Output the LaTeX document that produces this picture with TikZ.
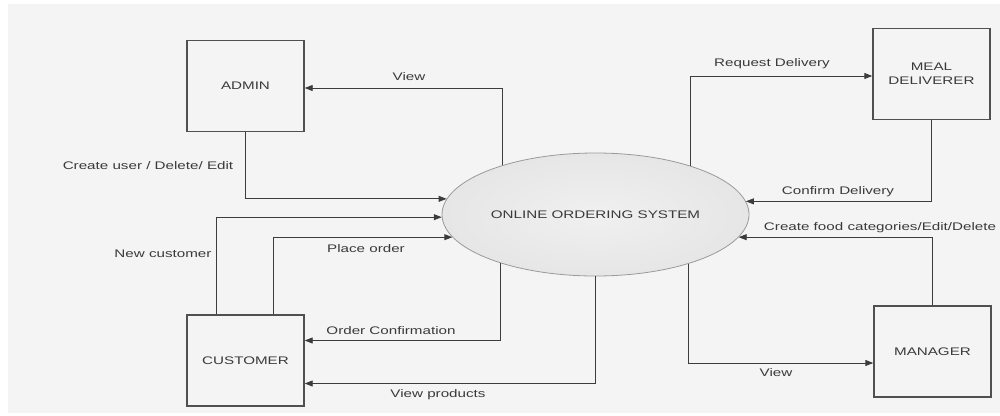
\documentclass[tikz,border=0pt]{standalone}
\usepackage{fontspec}
\setmainfont{Liberation Sans}
\newfontfamily\dfdfont[FakeStretch=1.38]{Liberation Sans}
\usetikzlibrary{arrows.meta,shapes.geometric}

\definecolor{bggray}{HTML}{F4F4F4}
\definecolor{boxline}{HTML}{505050}
\definecolor{flowline}{HTML}{3C3C3C}
\definecolor{sysfill}{HTML}{E6E6E6}
\definecolor{sysline}{HTML}{9A9A9A}
\definecolor{txtgray}{HTML}{3A3A3A}

\begin{document}
\begin{tikzpicture}[x=1pt,y=-1pt,
        entity/.style={draw=boxline, line width=1.4pt, fill=bggray, minimum width=117pt,
            minimum height=91pt, inner sep=0pt, align=center, text=txtgray,
            font=\dfdfont\fontsize{11}{14}\selectfont},
        sysnode/.style={ellipse, draw=sysline, line width=0.8pt, inner color=sysfill!60,
            outer color=sysfill, minimum width=307pt, minimum height=123pt, inner sep=0pt},
        lbl/.style={text=txtgray, inner sep=0pt, font=\dfdfont\fontsize{11}{13}\selectfont},
        flow/.style={draw=flowline, line width=0.9pt, -{Triangle[length=8pt,width=6pt]}}]

        % canvas
        \useasboundingbox (0,0) rectangle (1000,415);
        \fill[white] (0,0) rectangle (1000,415);
        \fill[bggray] (8,4) rectangle (1000,413);

        % external entities and the process
        \node[entity] (admin) at (245.5, 86) {ADMIN};
        \node[entity] (cust) at (245.5, 360.5) {CUSTOMER};
        \node[entity] (meal) at (931.5, 74) {MEAL\\DELIVERER};
        \node[entity] (mgr) at (932.5, 351.5) {MANAGER};
        \node[sysnode, label={[lbl]center:ONLINE ORDERING SYSTEM}] (sys) at (595.5, 214.5) {};

        % flows
        \draw[flow] (sys.152.8) |- ([yshift=-2]admin.east);
        \draw[flow] (admin.south) |- (sys.174.85);
        \draw[flow] ([xshift=30]cust.north west) |- (sys.181.3);
        \draw[flow] ([xshift=87]cust.north west) |- (sys.189.4);
        \draw[flow] (sys.207.2) |- ([yshift=20]cust.east);
        \draw[flow] (sys.south) |- ([yshift=-23]cust.east);
        \draw[flow] (sys.27.96) |- ([yshift=-2]meal.west);
        \draw[flow] (meal.south) |- (sys.5.96);
        \draw[flow] (mgr.north) |- (sys.351.04);
        \draw[flow] (sys.332.04) |- ([yshift=-11.5]mgr.west);

        % flow labels
        \node[lbl] (l_view) at (409, 77) {View};
        \node[lbl] (l_create) at (148, 166) {Create user / Delete/ Edit};
        \node[lbl] (l_new) at (163, 254) {New customer};
        \node[lbl] (l_place) at (366, 249) {Place order};
        \node[lbl] (l_conf) at (391, 331) {Order Confirmation};
        \node[lbl] (l_prod) at (438, 395) {View products};
        \node[lbl] (l_req) at (772, 64) {Request Delivery};
        \node[lbl] (l_cdel) at (838, 192) {Confirm Delivery};
        \node[lbl] (l_food) at (880, 228) {Create food categories/Edit/Delete};
        \node[lbl] (l_mview) at (776, 373) {View};

    \end{tikzpicture}
\end{document}
